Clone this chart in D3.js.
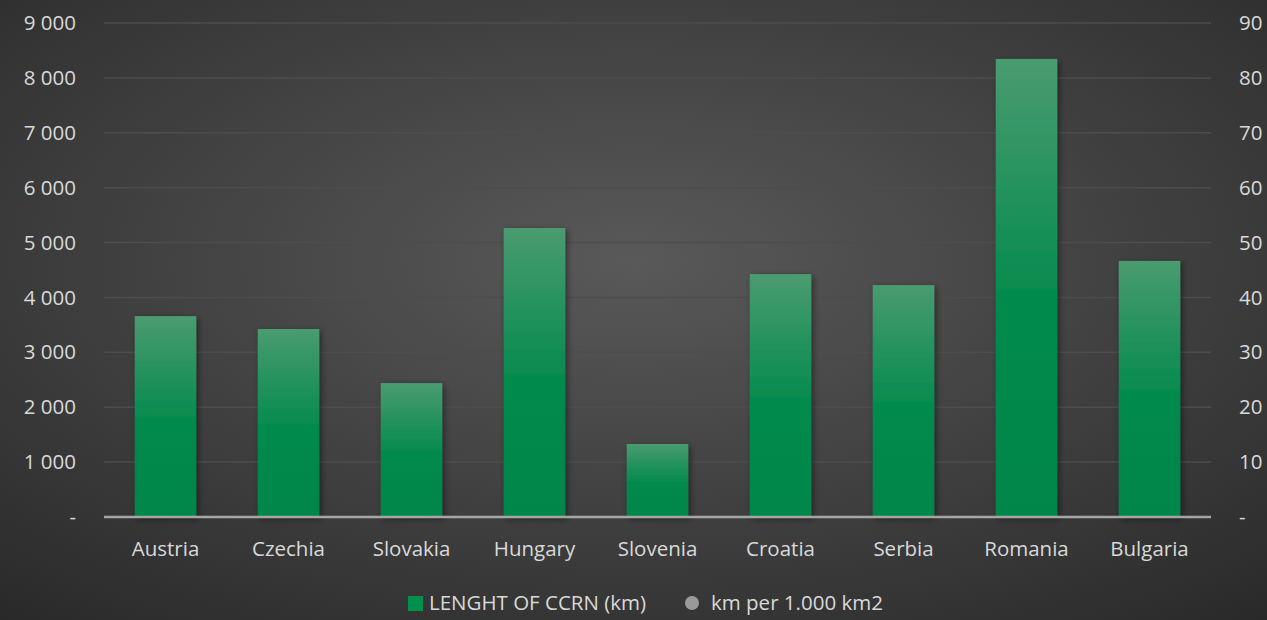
<!DOCTYPE html>
<html>
<head>
<meta charset="utf-8">
<script src="https://cdn.jsdelivr.net/npm/d3@7"></script>
<style>
  html, body { margin: 0; padding: 0; background: #2a2a2a; }
  svg { display: block; }
  svg text { font-family: "Open Sans", "Noto Sans", sans-serif; }
</style>
</head>
<body>
<svg id="chart" width="1267" height="620"></svg>
<script>
const countries = ["Austria", "Czechia", "Slovakia", "Hungary", "Slovenia", "Croatia", "Serbia", "Romania", "Bulgaria"];
const lengthKm = [3660, 3425, 2440, 5265, 1330, 4425, 4225, 8345, 4665];
const leftTicks = [0, 1000, 2000, 3000, 4000, 5000, 6000, 7000, 8000, 9000];
const rightTicks = [0, 10, 20, 30, 40, 50, 60, 70, 80, 90];
const seriesNames = ["LENGHT OF CCRN (km)", "km per 1.000 km2"];

const W = 1267, H = 620;
const plotLeft = 104, plotRight = 1211, plotTop = 23, plotBottom = 517;
const FONT = '"Open Sans", "Noto Sans", sans-serif';
const FSIZE = 20.5;

const svg = d3.select("#chart");
const defs = svg.append("defs");

let bg = defs.append("radialGradient").attr("id", "bg")
    .attr("cx", "50%").attr("cy", "42%").attr("r", "82%");
bg.append("stop").attr("offset", "0%").attr("stop-color", "#595959");
bg.append("stop").attr("offset", "100%").attr("stop-color", "#262626");

let bar = defs.append("linearGradient").attr("id", "bar")
    .attr("x1", 0).attr("y1", 0).attr("x2", 0).attr("y2", 1);
bar.append("stop").attr("offset", "0%").attr("stop-color", "#4a9b70");
bar.append("stop").attr("offset", "55%").attr("stop-color", "#008a4c");
bar.append("stop").attr("offset", "100%").attr("stop-color", "#00864a");

let sh = defs.append("filter").attr("id", "shadow")
    .attr("x", "-20%").attr("y", "-10%").attr("width", "150%").attr("height", "130%");
sh.append("feDropShadow").attr("dx", 2).attr("dy", 2).attr("stdDeviation", 3)
    .attr("flood-color", "#000").attr("flood-opacity", 0.45);

svg.append("rect").attr("width", W).attr("height", H).attr("fill", "url(#bg)");

const x = d3.scaleBand().domain(countries).range([plotLeft, plotRight]).paddingInner(0.5).paddingOuter(0.25);
const y = d3.scaleLinear().domain([0, 9000]).range([plotBottom, plotTop]);
const y2 = d3.scaleLinear().domain([0, 90]).range([plotBottom, plotTop]);

const fmt = v => v === 0 ? "-" : d3.format(",")(v).replace(",", " ");

function styleAxis(g) {
    g.attr("font-family", FONT).attr("font-size", FSIZE);
    g.select(".domain").remove();
    g.selectAll("text").attr("fill", "#d9d9d9");
}

// grid
svg.append("g").selectAll("line").data(leftTicks.slice(1)).join("line")
    .attr("x1", plotLeft).attr("x2", plotRight)
    .attr("y1", d => y(d)).attr("y2", d => y(d))
    .attr("stroke", "#4d4d4d").attr("stroke-width", 1.5);

// left axis
svg.append("g").attr("transform", `translate(${plotLeft},0)`)
    .call(d3.axisLeft(y).tickValues(leftTicks).tickFormat(fmt).tickSize(0).tickPadding(28))
    .call(styleAxis);

// right axis
svg.append("g").attr("transform", `translate(${plotRight},0)`)
    .call(d3.axisRight(y2).tickValues(rightTicks).tickFormat(v => v === 0 ? "-" : v).tickSize(0).tickPadding(28))
    .call(styleAxis);

// bars
svg.append("g").selectAll("rect").data(countries).join("rect")
    .attr("x", d => x(d))
    .attr("y", (d, i) => y(lengthKm[i]))
    .attr("width", x.bandwidth())
    .attr("height", (d, i) => plotBottom - y(lengthKm[i]))
    .attr("fill", "url(#bar)")
    .attr("filter", "url(#shadow)");

// baseline
svg.append("line").attr("x1", plotLeft).attr("x2", plotRight)
    .attr("y1", plotBottom).attr("y2", plotBottom)
    .attr("stroke", "#a6a6a6").attr("stroke-width", 2.5);

// x axis labels
svg.append("g").attr("transform", `translate(0,${plotBottom})`)
    .call(d3.axisBottom(x).tickSize(0).tickPadding(24))
    .call(styleAxis);

// legend
const lg = svg.append("g").attr("transform", "translate(0,603)")
    .attr("font-family", FONT).attr("font-size", FSIZE);
lg.append("rect").attr("x", 408).attr("y", -7).attr("width", 15).attr("height", 15).attr("fill", "#00904e");
lg.append("text").attr("x", 429).attr("y", 0).attr("dy", "0.35em")
    .attr("fill", "#d9d9d9").text(seriesNames[0]);
lg.append("circle").attr("cx", 692).attr("cy", 0).attr("r", 7).attr("fill", "#9a9a9a");
lg.append("text").attr("x", 711).attr("y", 0).attr("dy", "0.35em")
    .attr("fill", "#d9d9d9").text(seriesNames[1]);
</script>
</body>
</html>
